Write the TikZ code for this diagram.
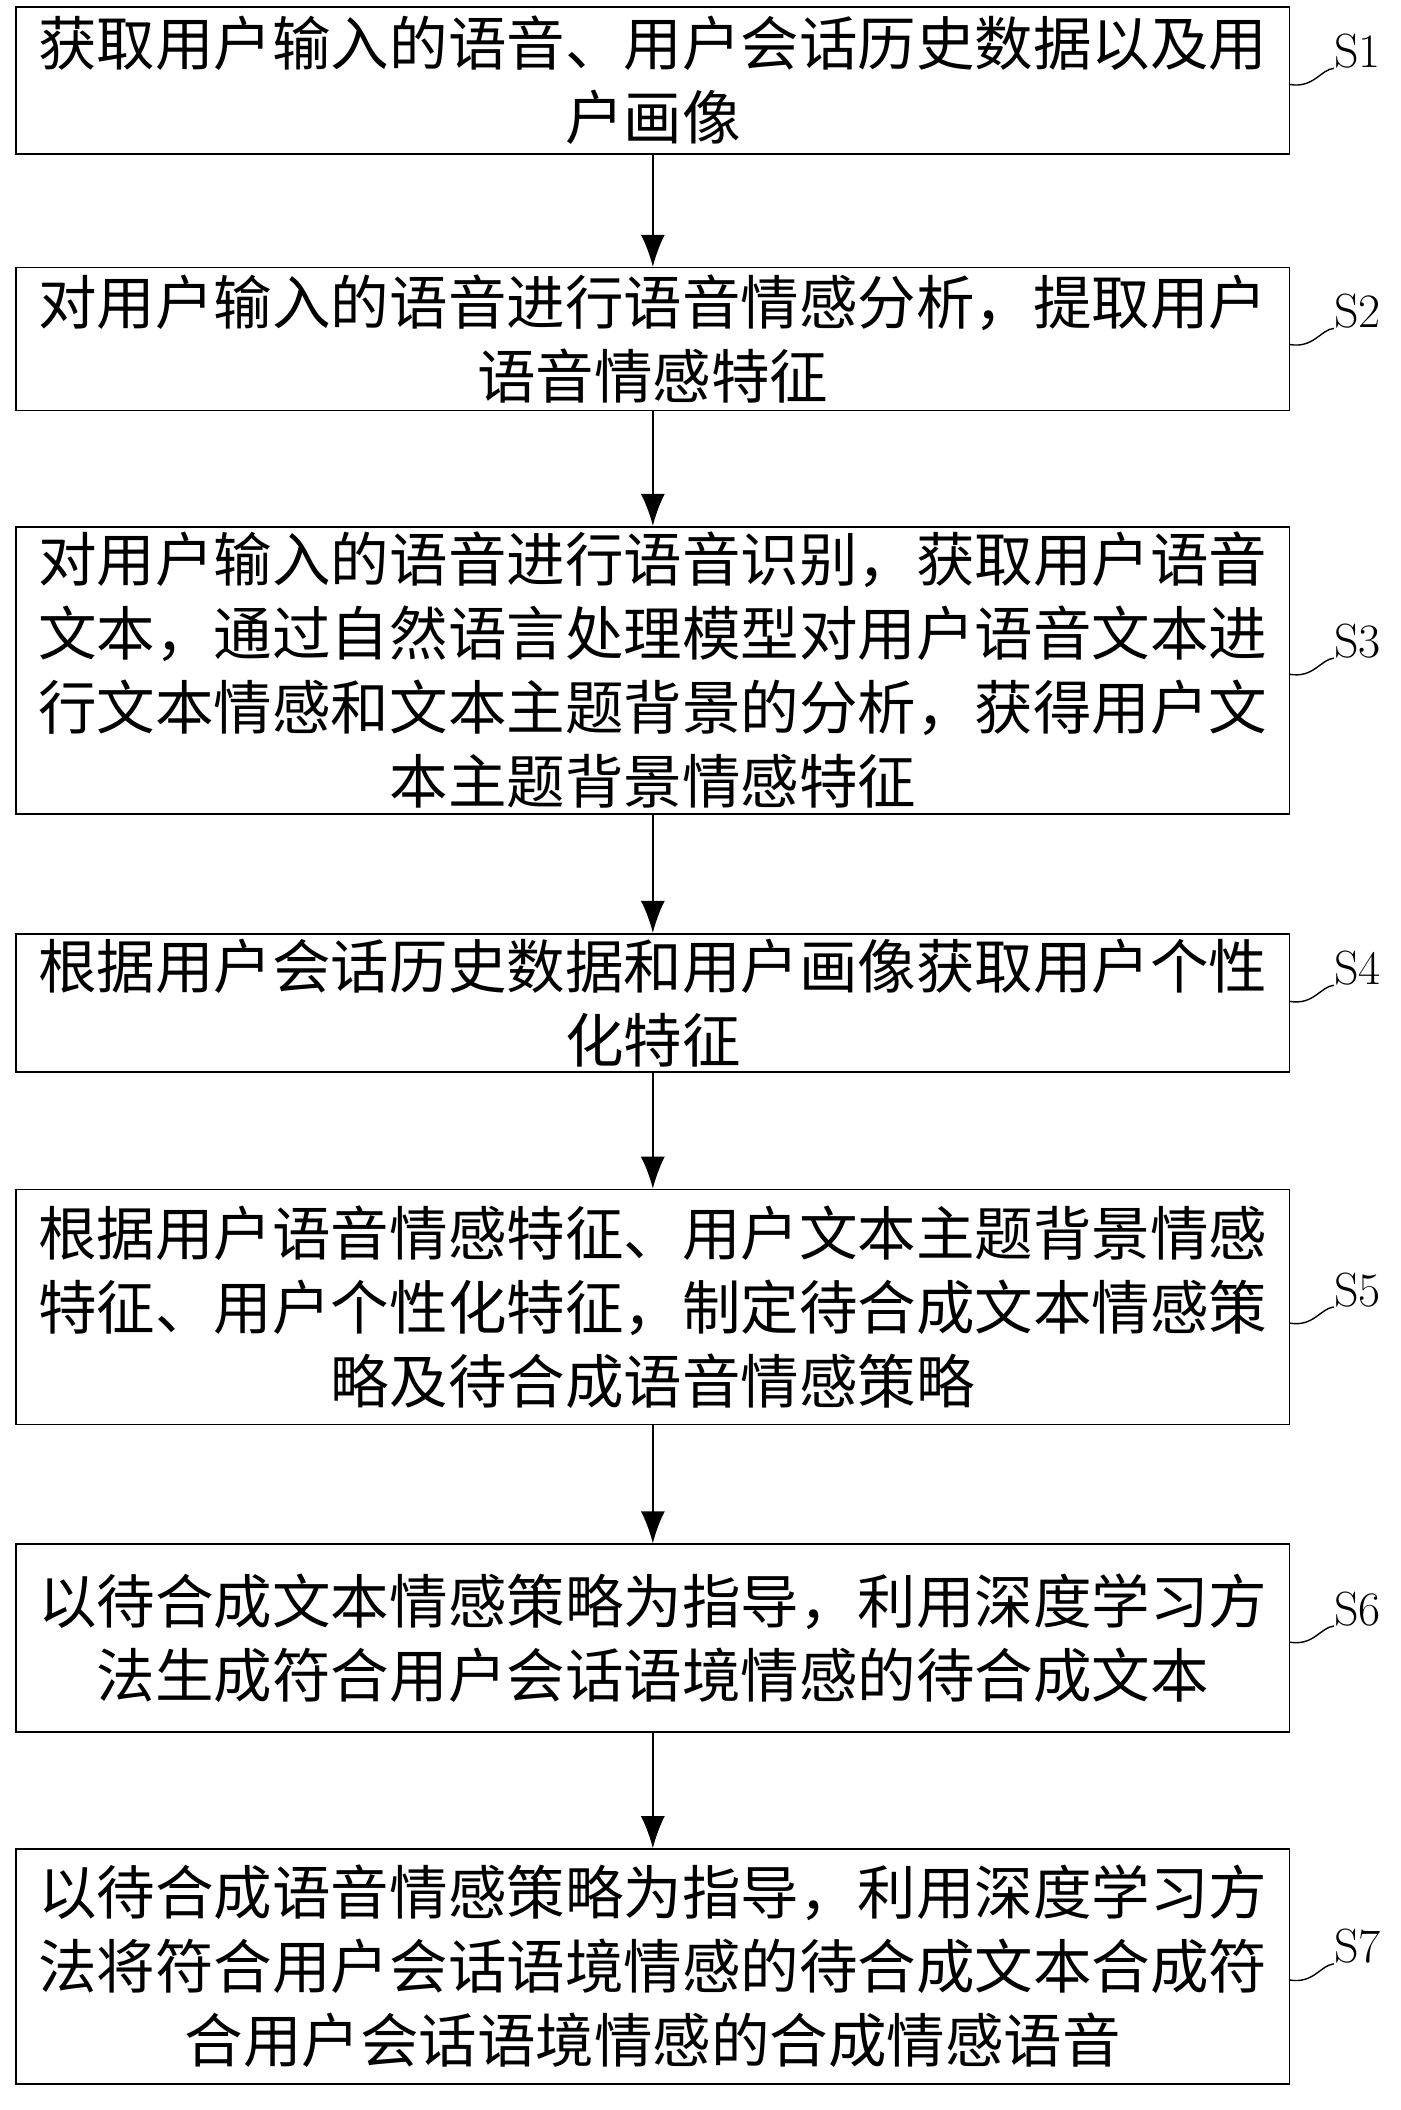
\documentclass[tikz,border=0pt]{standalone}
\usepackage{fontspec}
\usetikzlibrary{arrows.meta}
\newfontfamily\cjk{Noto Sans CJK SC}
\begin{document}
\begin{tikzpicture}[x=1.34pt,y=-1.34pt,
 box/.style={draw,line width=1.6pt,minimum width=1273pt,align=center,inner sep=0pt,
   font=\cjk\fontsize{58.5}{74}\selectfont},
 lab/.style={font=\fontsize{48}{48}\selectfont,anchor=west,inner sep=0pt},
 arr/.style={-{Latex[length=32pt,width=24pt]},line width=1.6pt},
 lead/.style={line width=1.4pt}]
\useasboundingbox (0,0) rectangle (1045,1574);
\node[box,minimum height=147pt] (b1) at (487,60) {获取用户输入的语音、用户会话历史数据以及用\\户画像};
\node[box,minimum height=143pt] (b2) at (487,253) {对用户输入的语音进行语音情感分析，提取用户\\语音情感特征};
\node[box,minimum height=287pt] (b3) at (487,500) {对用户输入的语音进行语音识别，获取用户语音\\文本，通过自然语言处理模型对用户语音文本进\\行文本情感和文本主题背景的分析，获得用户文\\本主题背景情感特征};
\node[box,minimum height=138pt] (b4) at (487,748) {根据用户会话历史数据和用户画像获取用户个性\\化特征};
\node[box,minimum height=235pt] (b5) at (487,975) {根据用户语音情感特征、用户文本主题背景情感\\特征、用户个性化特征，制定待合成文本情感策\\略及待合成语音情感策略};
\node[box,minimum height=188pt] (b6) at (487,1222) {以待合成文本情感策略为指导，利用深度学习方\\法生成符合用户会话语境情感的待合成文本};
\node[box,minimum height=235pt] (b7) at (487,1467) {以待合成语音情感策略为指导，利用深度学习方\\法将符合用户会话语境情感的待合成文本合成符\\合用户会话语境情感的合成情感语音};
\foreach \a/\b in {b1/b2,b2/b3,b3/b4,b4/b5,b5/b6,b6/b7}
  \draw[arr] (\a.south) -- (\b.north);
\foreach \i/\y in {1/38,2/232,3/478,4/722,5/962,6/1200,7/1452}{
  \node[lab] (l\i) at (995,\y) {S\i};
  \coordinate (e\i) at (962,\y+25);
  \draw[lead] (e\i) .. controls (980,\y+28) and (985,\y+14) .. (l\i.south west);
}
\end{tikzpicture}
\end{document}
